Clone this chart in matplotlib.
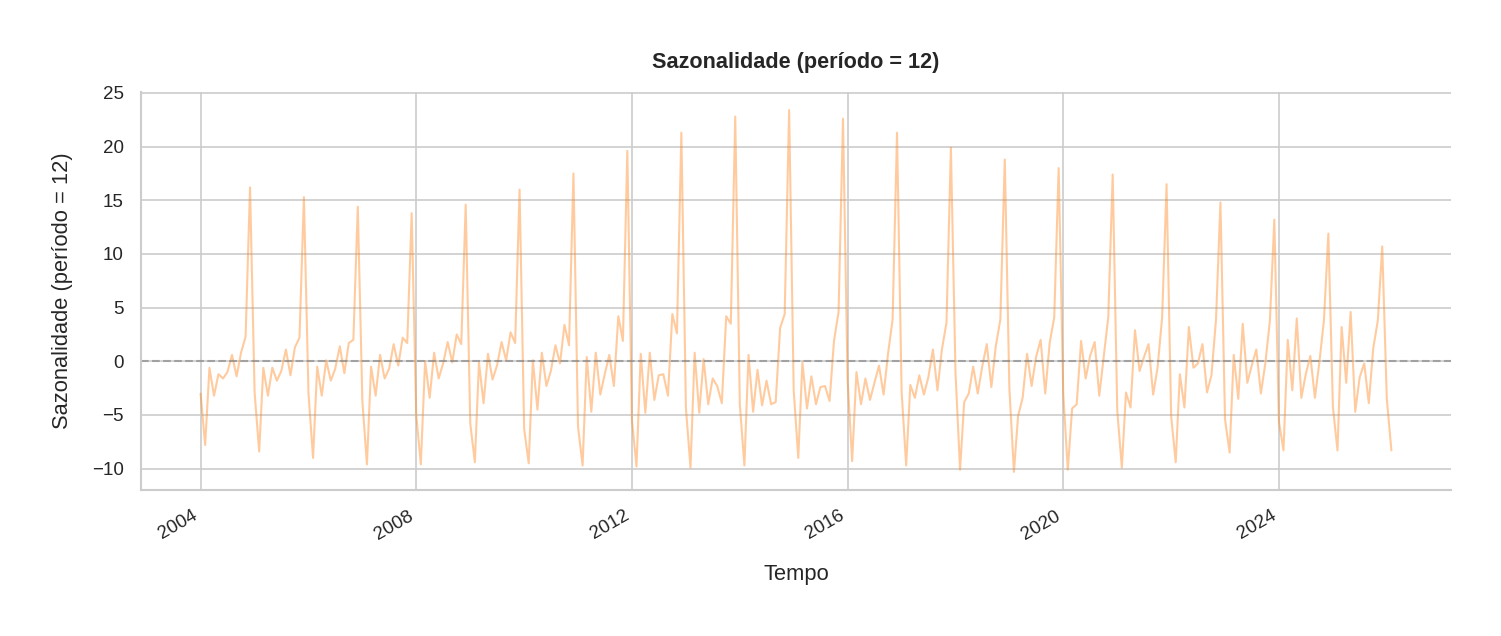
import matplotlib
matplotlib.use("Agg")
import matplotlib.pyplot as plt
import seaborn as sns
import pandas as pd

start = "2004-01-01"
n_months = 266

# seasonal component, one row per year (Jan..Dec)
seasonal = [
    -3.0, -7.8, -0.6, -3.2, -1.2, -1.6, -1.0, 0.6, -1.4, 0.8, 2.3, 16.2,   # 2004
    -2.9, -8.4, -0.6, -3.2, -0.6, -1.8, -0.9, 1.1, -1.3, 1.3, 2.2, 15.3,   # 2005
    -3.0, -9.0, -0.5, -3.2, 0.1, -1.8, -0.7, 1.4, -1.1, 1.7, 2.0, 14.4,    # 2006
    -3.7, -9.6, -0.5, -3.2, 0.6, -1.6, -0.7, 1.6, -0.4, 2.2, 1.7, 13.8,    # 2007
    -5.0, -9.6, 0.0, -3.4, 0.8, -1.6, -0.2, 1.8, -0.1, 2.5, 1.6, 14.6,     # 2008
    -5.8, -9.4, -0.1, -3.9, 0.7, -1.7, -0.4, 1.8, 0.1, 2.7, 1.7, 16.0,     # 2009
    -6.3, -9.5, 0.1, -4.5, 0.8, -2.3, -0.9, 1.5, -0.2, 3.4, 1.5, 17.5,     # 2010
    -6.1, -9.7, 0.4, -4.7, 0.8, -3.1, -1.2, 0.6, -2.3, 4.2, 1.9, 19.6,     # 2011
    -5.4, -9.8, 0.7, -4.8, 0.8, -3.6, -1.3, -1.2, -3.2, 4.4, 2.6, 21.3,    # 2012
    -4.4, -9.9, 0.8, -4.8, 0.2, -4.0, -1.6, -2.3, -3.9, 4.2, 3.5, 22.8,    # 2013
    -4.0, -9.7, 0.6, -4.7, -0.8, -4.1, -1.8, -4.0, -3.8, 3.1, 4.4, 23.4,   # 2014
    -2.7, -9.0, -0.1, -4.4, -1.4, -4.0, -2.4, -2.3, -3.7, 1.9, 4.6, 22.6,  # 2015
    -1.7, -9.3, -1.0, -4.0, -1.6, -3.6, -2.0, -0.4, -3.1, 0.7, 3.9, 21.3,  # 2016
    -2.8, -9.7, -2.2, -3.4, -1.3, -3.1, -1.5, 1.1, -2.7, 1.1, 3.6, 19.9,   # 2017
    -1.0, -10.1, -3.8, -3.0, -0.5, -3.0, -0.5, 1.6, -2.4, 1.4, 3.9, 18.8,  # 2018
    -2.5, -10.3, -5.1, -3.4, 0.7, -2.3, 0.4, 2.0, -3.0, 1.7, 4.1, 18.0,    # 2019
    -3.0, -10.1, -4.4, -4.0, 1.9, -1.6, 0.5, 1.8, -3.2, 0.4, 4.1, 17.4,    # 2020
    -4.6, -9.9, -2.9, -4.3, 2.9, -0.9, 0.4, 1.6, -3.1, -0.6, 4.1, 16.5,    # 2021
    -5.1, -9.4, -1.2, -4.3, 3.2, -0.6, -0.2, 1.6, -2.9, -1.3, 3.9, 14.8,   # 2022
    -5.4, -8.5, 0.6, -3.5, 3.5, -2.0, -0.4, 1.1, -3.0, -0.2, 3.8, 13.2,    # 2023
    -5.6, -8.3, 2.0, -2.7, 4.0, -3.4, -1.2, 0.5, -3.4, -0.1, 3.8, 11.9,    # 2024
    -4.3, -8.3, 3.2, -2.0, 4.6, -4.7, -1.5, -0.2, -3.9, 1.2, 3.8, 10.7,    # 2025
    -3.5, -8.3,                                                            # 2026
]

title = "Sazonalidade (período = 12)"

sns.set_theme(style="whitegrid", context="paper")
plt.rcParams["font.family"] = ["Liberation Sans", "DejaVu Sans"]

dates = pd.date_range(start, periods=n_months, freq="MS")

fig, ax = plt.subplots(figsize=(10.0133, 4.24), dpi=150)
ax.plot(dates, seasonal, color="#ff7f0e", alpha=0.4, linewidth=1.0)
ax.axhline(0, color="gray", linestyle="--", linewidth=1, alpha=0.6)
ax.set_title(title, fontweight="bold", fontsize=10.4, pad=11.5)
ax.set_xlabel("Tempo", fontsize=10.5, labelpad=10)
ax.set_ylabel(title, fontsize=10.5, labelpad=9)
ax.tick_params(labelsize=9)
sns.despine(ax=ax)
fig.autofmt_xdate()
fig.subplots_adjust(left=0.0939, right=0.966, top=0.8553, bottom=0.2296)
fig.savefig("out.png", dpi=150)
